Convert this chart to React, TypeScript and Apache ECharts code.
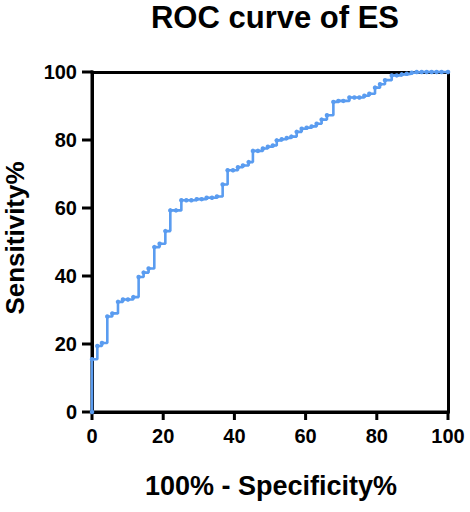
import React, { useEffect, useRef } from "react";
import * as echarts from "echarts";

// ROC points: false positive rate (100% - specificity) and sensitivity, in %
const fpr = [
  0, 0, 1.5, 2.8, 4.3, 5.7, 7.3, 8.7, 10.1, 11.6,
  13.1, 14.5, 15.9, 17.5, 19.0, 20.6, 22.0, 23.6, 25.1, 26.5,
  27.9, 29.4, 30.8, 32.2, 33.7, 35.1, 36.7, 38.1, 39.6, 41.0,
  42.4, 44.0, 45.2, 46.6, 48.0, 49.4, 50.8, 51.9, 53.3, 54.7,
  56.0, 57.5, 58.9, 60.3, 61.7, 63.1, 64.5, 66.0, 67.8, 69.2,
  70.6, 72.3, 73.7, 75.1, 76.5, 77.9, 79.5, 80.9, 82.3, 84.2,
  85.6, 87.0, 88.4, 89.8, 91.2, 92.6, 94.0, 95.4, 96.8, 98.2,
  100,
];
const tpr = [
  0, 15.5, 19.4, 20.3, 28.1, 29.0, 32.4, 33.1, 33.1, 33.8,
  39.7, 41.0, 42.2, 48.5, 49.5, 53.2, 59.3, 59.3, 62.3, 62.3,
  62.3, 62.6, 62.6, 63.0, 63.0, 63.4, 66.9, 71.1, 71.1, 72.0,
  72.5, 73.5, 76.8, 76.8, 77.5, 78.0, 78.4, 79.9, 80.2, 80.6,
  81.0, 82.4, 83.3, 83.6, 84.0, 84.8, 86.0, 87.3, 91.2, 91.5,
  91.5, 92.5, 92.5, 92.5, 93.0, 93.6, 95.4, 96.4, 97.6, 99.0,
  99.0, 99.3, 99.5, 99.8, 100, 100, 100, 100, 100, 100,
  100,
];

// tick positions shared by both axes
const ticks = [0, 20, 40, 60, 80, 100];

const title = "ROC curve of ES";
const xName = "100% - Specificity%";
const yName = "Sensitivity%";

const FONT = "'Liberation Sans', Arial, Helvetica, sans-serif";
const BLACK = "#000000";
const CURVE = "#5a9cf0";
const AXIS_W = 3;
const X_TICK_LEN = 8;
const Y_TICK_LEN = 10;

const makeLine = () => ({
  show: true,
  onZero: false,
  lineStyle: { color: BLACK, width: AXIS_W, type: "solid" as const },
});

export default function App() {
  const ref = useRef<HTMLDivElement>(null);

  useEffect(() => {
    if (!ref.current) return;
    const chart = echarts.init(ref.current, null, { renderer: "svg" });

    const labelStyle = {
      color: BLACK,
      fontFamily: FONT,
      fontWeight: "bold" as const,
      fontSize: 20,
    };
    const titleFont = {
      color: BLACK,
      fontFamily: FONT,
      fontWeight: "bold" as const,
    };
    const h = AXIS_W / 2;

    chart.setOption({
      animation: false,
      title: [
        {
          text: title,
          left: 270,
          textAlign: "center",
          top: -3,
          textStyle: { ...titleFont, fontSize: 31 },
        },
        {
          text: xName,
          left: 266,
          textAlign: "center",
          top: 467,
          textStyle: { ...titleFont, fontSize: 27 },
        },
      ],
      grid: {
        left: 92,
        right: 22,
        top: 72,
        bottom: 100,
        containLabel: false,
        outerBoundsMode: "none",
      },
      xAxis: [
        {
          type: "value",
          min: 0,
          max: 100,
          interval: 20,
          position: "bottom",
          axisLine: makeLine(),
          axisTick: { show: false },
          axisLabel: { ...labelStyle, margin: 14 },
          splitLine: { show: false },
        },
        {
          type: "value",
          min: 0,
          max: 100,
          interval: 20,
          position: "top",
          axisLine: makeLine(),
          axisTick: { show: false },
          axisLabel: { show: false },
          splitLine: { show: false },
        },
      ],
      yAxis: [
        {
          type: "value",
          min: 0,
          max: 100,
          interval: 20,
          position: "left",
          axisLine: makeLine(),
          axisTick: { show: false },
          axisLabel: { ...labelStyle, margin: 15 },
          splitLine: { show: false },
        },
        {
          type: "value",
          min: 0,
          max: 100,
          interval: 20,
          position: "right",
          axisLine: makeLine(),
          axisTick: { show: false },
          axisLabel: { show: false },
          splitLine: { show: false },
        },
      ],
      series: [
        {
          // left and bottom axis bars with their outward ticks
          type: "custom",
          xAxisIndex: 0,
          yAxisIndex: 0,
          clip: false,
          silent: true,
          z: 4,
          data: ticks.map((v) => [v]),
          renderItem: (params: any, api: any) => {
            const v = api.value(0);
            const [tx, by] = api.coord([v, 0]);
            const [lx, ty] = api.coord([0, v]);
            const children: any[] = [
              {
                type: "rect",
                shape: { x: tx - h, y: by, width: AXIS_W, height: X_TICK_LEN },
                style: { fill: BLACK },
              },
              {
                type: "rect",
                shape: { x: lx - Y_TICK_LEN, y: ty - h, width: Y_TICK_LEN, height: AXIS_W },
                style: { fill: BLACK },
              },
            ];
            if (params.dataIndex === 0) {
              const [x0, y0] = api.coord([0, 0]);
              const [x1, y1] = api.coord([100, 100]);
              children.push(
                {
                  type: "rect",
                  shape: { x: x0 - h, y: y1 - h, width: AXIS_W, height: y0 - y1 + AXIS_W },
                  style: { fill: BLACK },
                },
                {
                  type: "rect",
                  shape: { x: x0 - h, y: y0 - h, width: x1 - x0 + AXIS_W, height: AXIS_W },
                  style: { fill: BLACK },
                }
              );
            }
            return { type: "group", children };
          },
        },
        {
          type: "line",
          xAxisIndex: 0,
          yAxisIndex: 0,
          step: "end",
          clip: false,
          z: 5,
          data: fpr.map((x, i) => [x, tpr[i]]),
          symbol: "circle",
          symbolSize: 4.5,
          showSymbol: true,
          itemStyle: { color: CURVE },
          lineStyle: { color: CURVE, width: 2.6 },
        },
      ],
      graphic: [
        {
          type: "text",
          z: 10,
          silent: true,
          x: 15,
          y: 238,
          rotation: Math.PI / 2,
          style: {
            text: yName,
            fill: BLACK,
            font: `bold 26px ${FONT}`,
            textAlign: "center",
            textVerticalAlign: "middle",
          },
        },
      ],
    });

    return () => chart.dispose();
  }, []);

  return (
    <div
      ref={ref}
      style={{
        position: "fixed",
        left: 0,
        top: 0,
        width: 470,
        height: 512,
        background: "#ffffff",
      }}
    />
  );
}
